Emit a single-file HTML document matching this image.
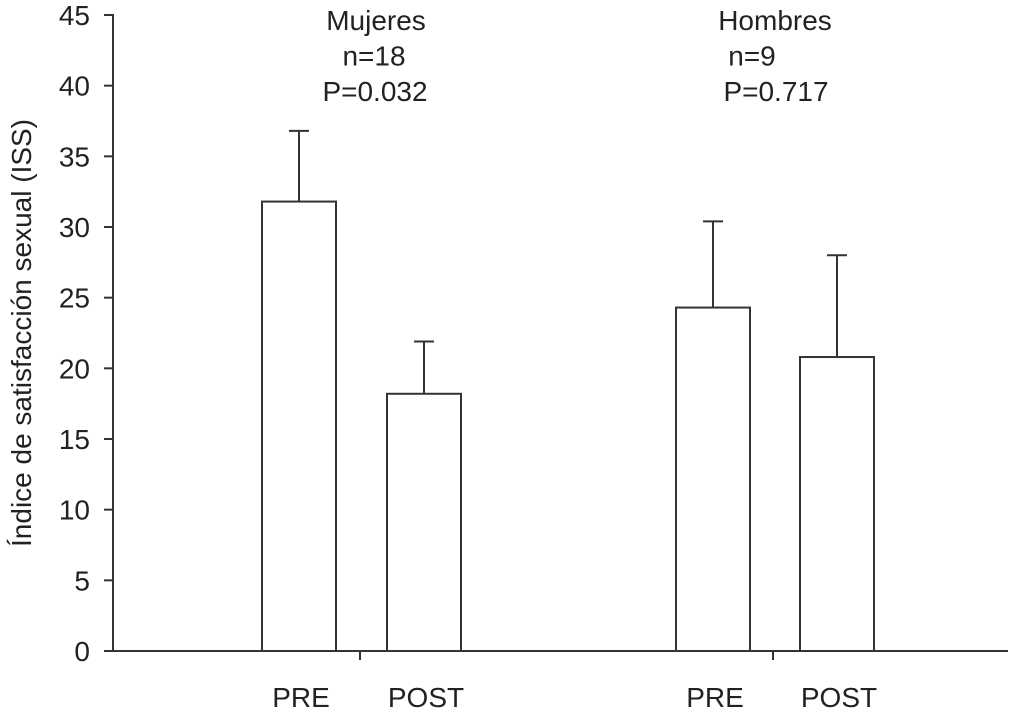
<!DOCTYPE html>
<html><head><meta charset="utf-8"><style>
html,body{margin:0;padding:0;background:#fff;}
svg{display:block;font-family:"Liberation Sans",sans-serif;}
</style></head><body>
<svg id="chart" width="1024" height="715" viewBox="0 0 1024 715" xmlns="http://www.w3.org/2000/svg">
<g id="axes"></g><g id="bars"></g><g id="labels"></g>
</svg>
<script>
const categories = ["PRE","POST","PRE","POST"];
const means = [31.8, 18.2, 24.3, 20.8];
const errors = [5.0, 3.7, 6.1, 7.2];
const yTicks = [0,5,10,15,20,25,30,35,40,45];
const groupTitles = [["Mujeres","n=18","P=0.032"],["Hombres","n=9","P=0.717"]];

const NS="http://www.w3.org/2000/svg";
const y0=651, yTop=15, yMax=45, xLeft=113, xRight=1008;
function yScale(v){return y0-(v/yMax)*(y0-yTop);}
const barCenters=[299,424,713,837];
const barW=74;
const FS=28;
function mk(tag,attrs,parent,text){const e=document.createElementNS(NS,tag);for(const k in attrs)e.setAttribute(k,attrs[k]);if(text!==undefined)e.textContent=text;parent.appendChild(e);return e;}
const axes=document.getElementById('axes'), bars=document.getElementById('bars'), labels=document.getElementById('labels');
const st={stroke:"#333","stroke-width":2,fill:"none"};

let yl=mk('line',Object.assign({x1:xLeft,y1:yTop-1,x2:xLeft,y2:y0},st),axes);


let xl=mk('line',Object.assign({x1:xLeft-9,y1:y0,x2:xRight,y2:y0},st),axes);


yTicks.forEach(t=>{
  const y=yScale(t);
  let l=mk('line',Object.assign({x1:xLeft-9,y1:y,x2:xLeft,y2:y},st),axes);
  
  
  let tx=mk('text',{x:90,y:y+10,"text-anchor":"end","font-size":FS,fill:"#222"},axes,String(t));
  
  
});
[360,773].forEach(x=>{
  let l=mk('line',Object.assign({x1:x,y1:y0,x2:x,y2:y0+9},st),axes);
  
  
});
let yt=mk('text',{x:0,y:0,transform:"translate(31,333) rotate(-90)","text-anchor":"middle","font-size":FS,fill:"#222"},axes,"Índice de satisfacción sexual (ISS)");



means.forEach((m,i)=>{
  const cx=barCenters[i], top=yScale(m), et=yScale(m+errors[i]);
  let r=mk('rect',Object.assign({x:cx-barW/2,y:top,width:barW,height:y0-top},st,{fill:"#fff"}),bars);
  
  
  let e=mk('line',Object.assign({x1:cx,y1:top,x2:cx,y2:et},st),bars);
  
  
  let c=mk('line',Object.assign({x1:cx-10,y1:et,x2:cx+10,y2:et},st),bars);
  
  
  let t=mk('text',{x:cx+2,y:707,"text-anchor":"middle","font-size":FS,fill:"#222"},labels,categories[i]);
  
  
});
const titleX=[[376,374,375],[775,752,776]];
groupTitles.forEach((g,gi)=>{
  g.forEach((s,li)=>{
    let t=mk('text',{x:titleX[gi][li],y:30+li*35.5,"text-anchor":"middle","font-size":FS,fill:"#222"},labels,s);
    
    
  });
});
</script>
</body></html>
